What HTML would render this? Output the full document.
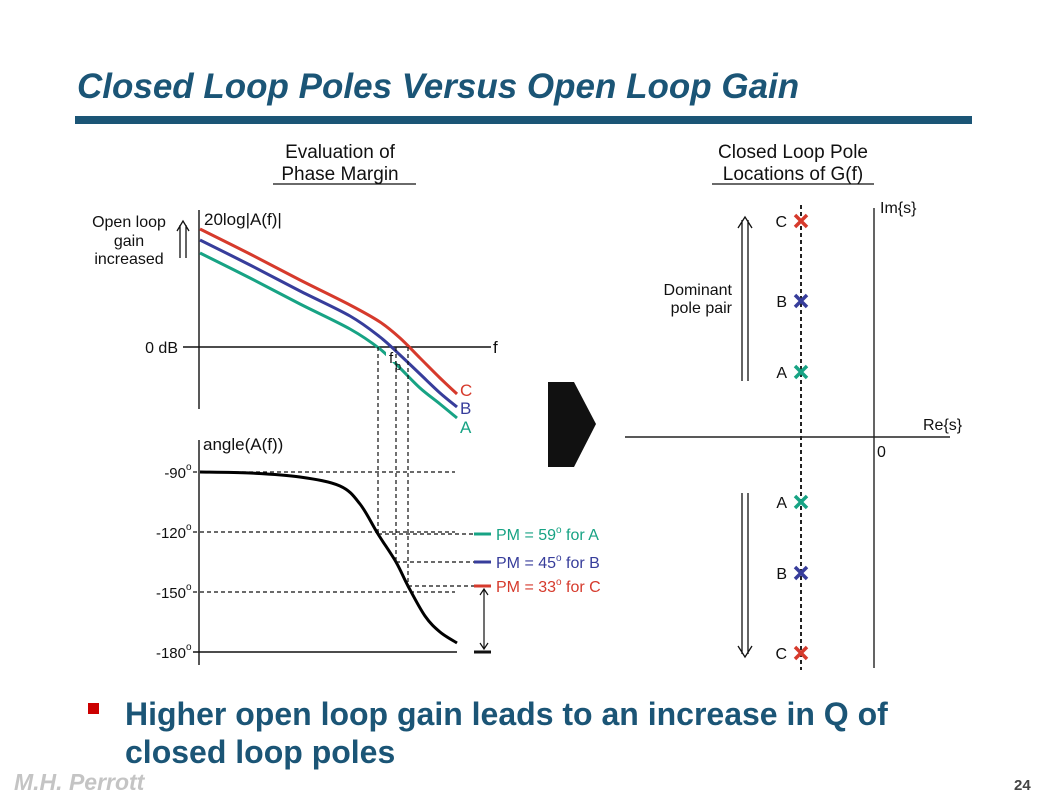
<!DOCTYPE html>
<html><head><meta charset="utf-8"><style>
html,body{margin:0;padding:0;background:#fff}
body{width:1046px;height:803px;overflow:hidden;position:relative;font-family:"Liberation Sans",sans-serif}
svg{position:absolute;left:0;top:0}
</style></head><body>
<svg width="1046" height="803" viewBox="0 0 1046 803" font-family="Liberation Sans, sans-serif">
<text x="77" y="98" font-size="35" font-weight="bold" font-style="italic" fill="#1b5576">Closed Loop Poles Versus Open Loop Gain</text>
<rect x="75" y="116" width="897" height="8" fill="#1b5576"/>

<g font-size="19" fill="#111" text-anchor="middle">
<text x="340" y="158">Evaluation of</text><text x="340" y="180">Phase Margin</text>
<line x1="273" y1="184" x2="416" y2="184" stroke="#111" stroke-width="1.3"/></g>
<g font-size="19" fill="#111" text-anchor="middle">
<text x="793" y="158">Closed Loop Pole</text><text x="793" y="180">Locations of G(f)</text>
<line x1="712" y1="184" x2="874" y2="184" stroke="#111" stroke-width="1.3"/></g>

<g id="mag"></g>
<g id="phase"></g>
<g id="poles"></g>

<polygon points="548,382 574,382 596,424 574,467 548,467" fill="#111"/>

<rect x="88" y="703" width="11" height="11" fill="#cc0000"/>
<text x="125" y="725" font-size="32" font-weight="bold" fill="#1b5576">Higher open loop gain leads to an increase in Q of</text>
<text x="125" y="763" font-size="32" font-weight="bold" fill="#1b5576">closed loop poles</text>
<text x="14" y="790" font-size="23" font-weight="bold" font-style="italic" fill="#c4c4c4">M.H. Perrott</text>
<text x="1014" y="790" font-size="15" font-weight="bold" fill="#444">24</text>
</svg>
<script>
const freqPx = [200,250,300,350,380,400,420,440,457];
const magC = [59,46.5,33.5,21,12.5,4.5,-5.5,-15.5,-23.5];
const magB = [53.5,41,28,15.5,5,-4,-13.5,-23,-30];
const magA = [47,34.5,21.5,9,-1,-10.5,-20.5,-28.5,-35.5];
const phaseFreqPx = [200,250,300,340,360,378,396,408,425,440,457];
const phaseDeg = [-90,-90.5,-92.5,-97,-106,-121,-135,-147,-162,-170,-175.5];
const phaseTicks = [-90,-120,-150,-180];
const phaseTickLabels = ["-90","-120","-150","-180"];
const crossPx = [378,396,408];
const pmValues = [59,45,33];
const seriesNames = ["A","B","C"];
const poleRe = [-7.3,-7.3,-7.3];
const poleIm = [6.5,13.6,21.6];
const colors = {A:"#17a384",B:"#373d9b",C:"#d63a2c"};
const NS="http://www.w3.org/2000/svg";
function mk(tag,attrs,parent){const e=document.createElementNS(NS,tag);for(const k in attrs)e.setAttribute(k,attrs[k]);parent.appendChild(e);return e;}
function txt(s,attrs,parent){const e=mk("text",attrs,parent);e.textContent=s;return e;}
function smooth(pts){
  let d="M"+pts[0][0]+","+pts[0][1];
  for(let i=0;i<pts.length-1;i++){
    const p0=pts[Math.max(0,i-1)],p1=pts[i],p2=pts[i+1],p3=pts[Math.min(pts.length-1,i+2)];
    const c1x=p1[0]+(p2[0]-p0[0])/6,c1y=p1[1]+(p2[1]-p0[1])/6;
    const c2x=p2[0]-(p3[0]-p1[0])/6,c2y=p2[1]-(p3[1]-p1[1])/6;
    d+=` C${c1x},${c1y} ${c2x},${c2y} ${p2[0]},${p2[1]}`;
  }
  return d;
}
const yMag=m=>347-m*2;
const yPh=d=>472+(-90-d)*2;
const xRe=r=>874+r*10;
const yIm=i=>437-i*10;
const mag=document.getElementById("mag"),ph=document.getElementById("phase"),pl=document.getElementById("poles");

let a=mk("line",{x1:199,y1:210,x2:199,y2:409,stroke:"#111","stroke-width":1.4},mag);


a=mk("line",{x1:183,y1:347,x2:491,y2:347,stroke:"#111","stroke-width":1.4},mag);


txt("20log|A(f)|",{x:204,y:225,"font-size":17,fill:"#111"},mag);
txt("0 dB",{x:178,y:353,"font-size":16,fill:"#111","text-anchor":"end"},mag);
txt("f",{x:493,y:353,"font-size":17,fill:"#111"},mag);
const ol=mk("g",{"font-size":16,fill:"#111","text-anchor":"middle"},mag);


txt("Open loop",{x:129,y:227},ol);txt("gain",{x:129,y:246},ol);txt("increased",{x:129,y:264},ol);
mk("path",{d:"M180,258 V225 M186,258 V225 M177,231 L183,221 L189,231",fill:"none",stroke:"#111","stroke-width":1.3},mag);
const magSeries={A:magA,B:magB,C:magC};
const labOff={A:15,B:7,C:2};
seriesNames.forEach(n=>{
  const d=smooth(freqPx.map((x,i)=>[x,yMag(magSeries[n][i])]));
  const p=mk("path",{d:d,fill:"none",stroke:colors[n],"stroke-width":3,"stroke-linejoin":"round"},mag);
  
  
  const last=magSeries[n][magSeries[n].length-1];
  txt(n,{x:460,y:yMag(last)+labOff[n],"font-size":17,fill:colors[n]},mag);
});
mk("rect",{x:386,y:352,width:9,height:10,fill:"#fff"},mag);
txt("f",{x:389,y:363,"font-size":15,fill:"#111"},mag);
txt("p",{x:395,y:370,"font-size":11,fill:"#111"},mag);

a=mk("line",{x1:199,y1:440,x2:199,y2:665,stroke:"#111","stroke-width":1.4},ph);


txt("angle(A(f))",{x:203,y:450,"font-size":17,fill:"#111"},ph);
phaseTicks.forEach((t,i)=>{
  const y=yPh(t);
  const lb=txt(phaseTickLabels[i],{x:186,y:y+6,"font-size":15,fill:"#111","text-anchor":"end"},ph);
  
  
  txt("o",{x:186,y:y-2,"font-size":10,fill:"#111"},ph);
  if(t===-180) mk("line",{x1:193,y1:y,x2:457,y2:y,stroke:"#111","stroke-width":1.4},ph);
  else mk("line",{x1:193,y1:y,x2:455,y2:y,stroke:"#111","stroke-width":1.2,"stroke-dasharray":"4,3"},ph);
});
const pc=mk("path",{d:smooth(phaseFreqPx.map((x,i)=>[x,yPh(phaseDeg[i])])),fill:"none",stroke:"#000","stroke-width":3},ph);


seriesNames.forEach((n,i)=>{
  const x=crossPx[i];const yy=yPh(-180+pmValues[i]);
  mk("line",{x1:x,y1:347,x2:x,y2:yy,stroke:"#111","stroke-width":1.2,"stroke-dasharray":"4,3"},ph);
  mk("line",{x1:x,y1:yy,x2:474,y2:yy,stroke:"#111","stroke-width":1.2,"stroke-dasharray":"4,3"},ph);
  const m=mk("line",{x1:474,y1:yy,x2:491,y2:yy,stroke:colors[n],"stroke-width":3},ph);
  
  
  const t=mk("text",{x:496,y:yy+6,"font-size":16,fill:colors[n]},ph);
  
  
  t.innerHTML="PM = "+pmValues[i]+"<tspan dy='-7' font-size='10'>o</tspan><tspan dy='7'> for "+n+"</tspan>";
});
mk("line",{x1:474,y1:yPh(-180),x2:491,y2:yPh(-180),stroke:"#111","stroke-width":3},ph);
const yt=yPh(-180+pmValues[2]), yb=yPh(-180);
mk("path",{d:`M484,${yt+4} V${yb-4} M480,${yt+9} L484,${yt+3} L488,${yt+9} M480,${yb-9} L484,${yb-3} L488,${yb-9}`,fill:"none",stroke:"#111","stroke-width":1.2},ph);

a=mk("line",{x1:625,y1:437,x2:950,y2:437,stroke:"#222","stroke-width":1.4},pl);


a=mk("line",{x1:874,y1:208,x2:874,y2:668,stroke:"#222","stroke-width":1.4},pl);


txt("Im{s}",{x:880,y:213,"font-size":16,fill:"#111"},pl);
txt("Re{s}",{x:923,y:430,"font-size":16,fill:"#111"},pl);
txt("0",{x:877,y:457,"font-size":16,fill:"#111"},pl);
mk("line",{x1:xRe(poleRe[0]),y1:205,x2:xRe(poleRe[0]),y2:670,stroke:"#222","stroke-width":2,"stroke-dasharray":"4,3"},pl);
const dp=mk("g",{"font-size":16,fill:"#111","text-anchor":"end"},pl);


txt("Dominant",{x:732,y:295},dp);txt("pole pair",{x:732,y:313},dp);
mk("path",{d:"M742,381 V220 M748,381 V220 M738,228 L745,217 L752,228",fill:"none",stroke:"#111","stroke-width":1.3},pl);
mk("path",{d:"M742,493 V654 M748,493 V654 M738,646 L745,657 L752,646",fill:"none",stroke:"#111","stroke-width":1.3},pl);
seriesNames.forEach((n,i)=>{
  [1,-1].forEach(s=>{
    const cx=xRe(poleRe[i]),cy=yIm(s*poleIm[i]);
    const g=mk("g",{},pl);
    
    
    mk("path",{d:`M${cx-6},${cy-6} L${cx+6},${cy+6} M${cx+6},${cy-6} L${cx-6},${cy+6}`,stroke:colors[n],"stroke-width":3.5},g);
    txt(n,{x:cx-14,y:cy+6,"font-size":16,fill:"#111","text-anchor":"end"},g);
  });
});
</script>
</body></html>
